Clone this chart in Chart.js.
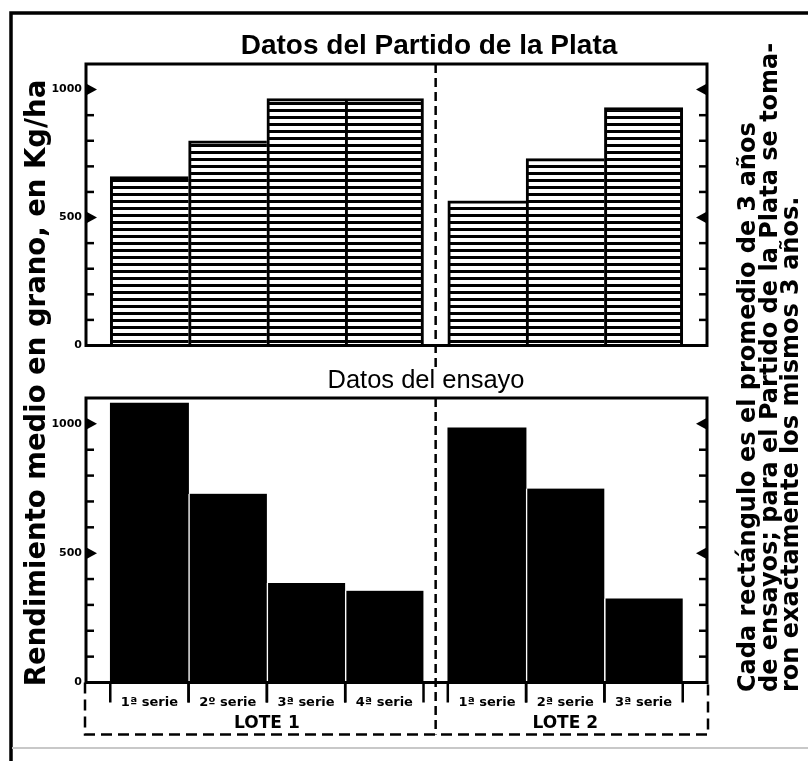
<!DOCTYPE html>
<html><head><meta charset="utf-8">
<script src="https://cdn.jsdelivr.net/npm/chart.js@4.4.1/dist/chart.umd.min.js"></script>
<style>
html,body{margin:0;padding:0;background:#fff;}
#wrap{position:relative;width:808px;height:761px;background:#fff;}
canvas{position:absolute;left:0;top:0;}
</style></head><body>
<div id="wrap"><canvas id="cTop" width="808" height="761"></canvas><canvas id="cBot" width="808" height="761"></canvas></div>
<script>
// ---------- data ----------
const categories = ['1ª serie','2º serie','3ª serie','4ª serie','1ª serie','2ª serie','3ª serie'];
const lotNames = ['LOTE 1','LOTE 2'];
const lotSizes = [4,3];
const partidoValues = [660,800,965,965,565,730,930];
const ensayoValues = [1080,730,385,355,985,750,325];
const yTickValues = [0,500,1000];
const yTickLabels = ['0','500','1000'];
const yMinorStep = 100;
const yMax = 1100;
const topTitle = 'Datos del Partido de la Plata';
const bottomTitle = 'Datos del ensayo';
const yAxisTitle = 'Rendimiento medio en grano, en Kg/ha';
const noteLines = ['Cada rectángulo es el promedio de 3 años','de ensayos; para el Partido de la Plata se toma-','ron exactamente los mismos 3 años.'];

// ---------- layout helpers ----------
const GAP = 0.31;
const lotOf = [];
lotSizes.forEach((n,k)=>{for(let i=0;i<n;i++) lotOf.push(k);});
const centers = [];
(function(){let s=0; lotSizes.forEach(n=>{s+=GAP; for(let i=0;i<n;i++) centers.push(s+i+0.5); s+=n;});})();
const xMax = lotSizes.reduce((a,b)=>a+b,0) + GAP*(lotSizes.length+1);
const firstInLot = i => i===0 || lotOf[i]!==lotOf[i-1];
const lastInLot = i => i===lotOf.length-1 || lotOf[i]!==lotOf[i+1];
function lotRange(k){const idx=[];lotOf.forEach((l,i)=>{if(l===k)idx.push(i);});return [centers[idx[0]]-0.5, centers[idx[idx.length-1]]+0.5];}
const dividerX = lotRange(0)[1] + GAP/2;

// hatch pattern
const pc = document.createElement('canvas'); pc.width=8; pc.height=7;
const pctx = pc.getContext('2d'); pctx.fillStyle='#fff'; pctx.fillRect(0,0,8,7); pctx.fillStyle='#000'; pctx.fillRect(0,4,8,3);
const hatch = pctx.createPattern(pc,'repeat');

function baseOptions(padding, showX){
  const x = {type:'linear', min:0, max:xMax, offset:false, display:showX,
    grid:{display:false, drawTicks:false}, border:{display:false},
    afterBuildTicks: s => { s.ticks = centers.map(v=>({value:v})); },
    ticks:{autoSkip:false, maxRotation:0, minRotation:0, padding:12, color:'#000',
      font:{family:'DejaVu Sans', weight:'bold', size:13}, callback:(v,i)=>categories[i]}};
  if (showX) x.afterFit = s => { s.height = 52; };
  return {
    responsive:false, animation:false, events:[], devicePixelRatio:1,
    layout:{padding},
    plugins:{legend:{display:false}, tooltip:{enabled:false}, title:{display:false}},
    scales:{
      x,
      y:{type:'linear', min:0, max:yMax, grid:{display:false, drawTicks:false}, border:{display:false},
        afterBuildTicks: s => { s.ticks = yTickValues.map(v=>({value:v})); },
        afterFit: s => { s.width = 40; },
        ticks:{padding:4, color:'#000', font:{family:'DejaVu Sans', weight:'bold', size:11}, callback:(v,i)=>yTickLabels[i]}}
    }
  };
}

const panelDeco = {
  id:'panelDeco',
  afterDatasetsDraw(chart, args, opts){
    const {ctx, chartArea:a, scales:{x,y}} = chart;
    ctx.save();
    ctx.strokeStyle='#000'; ctx.fillStyle='#000';
    ctx.lineWidth=3;
    ctx.strokeRect(a.left, a.top, a.right-a.left, a.bottom-a.top);
    ctx.lineWidth=2.5;
    for(let v=yMinorStep; v<yMax; v+=yMinorStep){
      const py = y.getPixelForValue(v);
      if (yTickValues.includes(v)) {
        ctx.beginPath(); ctx.moveTo(a.left, py-6); ctx.lineTo(a.left+11, py); ctx.lineTo(a.left, py+6); ctx.closePath(); ctx.fill();
        ctx.beginPath(); ctx.moveTo(a.right, py-6); ctx.lineTo(a.right-11, py); ctx.lineTo(a.right, py+6); ctx.closePath(); ctx.fill();
      } else {
        ctx.beginPath(); ctx.moveTo(a.left, py); ctx.lineTo(a.left+8, py); ctx.stroke();
        ctx.beginPath(); ctx.moveTo(a.right, py); ctx.lineTo(a.right-8, py); ctx.stroke();
      }
    }
    const dx = x.getPixelForValue(dividerX);
    ctx.setLineDash([9,5]); ctx.lineWidth=2.5;
    ctx.beginPath(); ctx.moveTo(dx, a.top); ctx.lineTo(dx, a.bottom + opts.divExtend); ctx.stroke();
    if (opts.underAxis) {
      const yb = a.bottom + 52;
      ctx.setLineDash([11,6]);
      ctx.beginPath(); ctx.moveTo(a.left-1, a.bottom); ctx.lineTo(a.left-1, yb); ctx.lineTo(a.right+1, yb); ctx.lineTo(a.right+1, a.bottom); ctx.stroke();
      ctx.setLineDash([]);
      ctx.lineWidth=2.5;
      centers.forEach((c,i)=>{
        [c-0.5, c+0.5].forEach(e=>{
          const px = x.getPixelForValue(e);
          ctx.beginPath(); ctx.moveTo(px, a.bottom); ctx.lineTo(px, a.bottom+20); ctx.stroke();
        });
      });
      ctx.font='bold 17px "DejaVu Sans"'; ctx.textAlign='center'; ctx.textBaseline='middle';
      lotNames.forEach((n,k)=>{
        const r = lotRange(k);
        ctx.fillText(n, x.getPixelForValue((r[0]+r[1])/2), a.bottom+41);
      });
    }
    ctx.restore();
  }
};

function rotText(ctx, text, x, y, font, align){
  ctx.save(); ctx.translate(x,y); ctx.rotate(-Math.PI/2);
  ctx.font=font; ctx.textAlign=align; ctx.textBaseline='middle'; ctx.fillStyle='#000';
  ctx.fillText(text,0,0); ctx.restore();
}

const pageDeco = {
  id:'pageDeco',
  afterDraw(chart){
    const ctx = chart.ctx;
    ctx.save();
    ctx.strokeStyle='#000'; ctx.lineWidth=3.5;
    ctx.beginPath(); ctx.moveTo(11, 761); ctx.lineTo(11, 13); ctx.lineTo(808, 13); ctx.stroke();
    ctx.strokeStyle='#c8c8c8'; ctx.lineWidth=2;
    ctx.beginPath(); ctx.moveTo(12, 748); ctx.lineTo(808, 748); ctx.stroke();
    ctx.fillStyle='#000'; ctx.textAlign='center'; ctx.textBaseline='middle';
    ctx.font='bold 28px "Liberation Sans"';
    ctx.fillText(topTitle, 429, 46);
    ctx.font='25.5px "Liberation Sans"';
    ctx.fillText(bottomTitle, 426, 381);
    rotText(ctx, yAxisTitle, 38, 383, 'bold 27.5px "DejaVu Sans"', 'center');
    const nx = [749, 771, 792];
    noteLines.forEach((t,i)=> rotText(ctx, t, nx[i], 692, 'bold 24px "DejaVu Sans"', 'left'));
    ctx.restore();
  }
};

const optA = baseOptions({left:46, right:101, top:64, bottom:415.5}, false);
optA.plugins.panelDeco = {divExtend:22, underAxis:false};
new Chart(document.getElementById('cTop'), {
  type:'bar',
  data:{datasets:[{
    data: partidoValues.map((v,i)=>({x:centers[i], y:v})),
    backgroundColor: hatch, borderColor:'#000', borderSkipped:'start',
    borderWidth: c => ({top:3, left:3, right: lastInLot(c.dataIndex)?3:0, bottom:0}),
    barPercentage:1, categoryPercentage:1
  }]},
  options: optA,
  plugins:[panelDeco]
});

const optB = baseOptions({left:46, right:101, top:398, bottom:26.5}, true);
optB.plugins.panelDeco = {divExtend:52, underAxis:true};
new Chart(document.getElementById('cBot'), {
  type:'bar',
  data:{datasets:[{
    data: ensayoValues.map((v,i)=>({x:centers[i], y:v})),
    backgroundColor:'#000', borderColor:'#fff', borderSkipped:'start',
    borderWidth: c => ({top:0, left: firstInLot(c.dataIndex)?0:1.5, right:0, bottom:0}),
    barPercentage:1, categoryPercentage:1
  }]},
  options: optB,
  plugins:[panelDeco, pageDeco]
});
</script>
</body></html>
